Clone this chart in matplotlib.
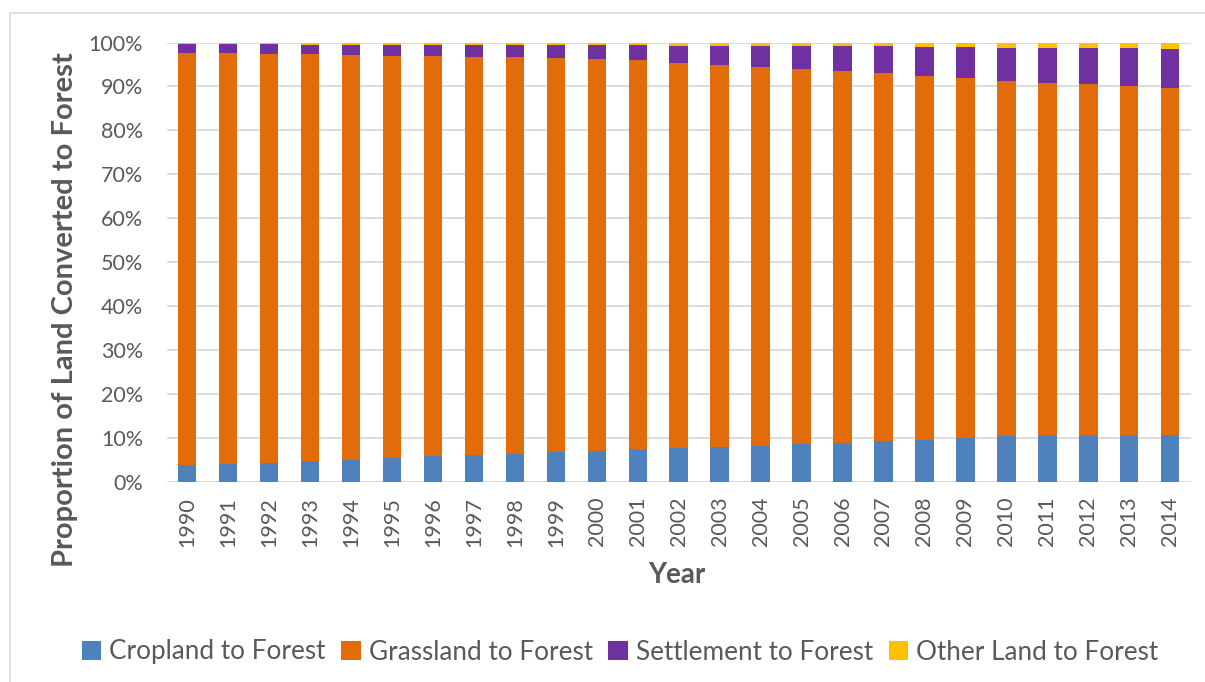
import matplotlib
matplotlib.use("Agg")
import matplotlib.pyplot as plt
from matplotlib.lines import Line2D
from matplotlib.patches import Patch
import numpy as np

years = [str(y) for y in range(1990, 2015)]
cropland = [3.8, 4.0, 4.2, 4.6, 5.0, 5.4, 5.8, 6.0, 6.3, 6.7, 7.0, 7.3, 7.6,
            7.9, 8.2, 8.5, 8.8, 9.2, 9.5, 10.0, 10.3, 10.5, 10.5, 10.5, 10.5]
grass_top = [97.6, 97.5, 97.4, 97.3, 97.2, 97.0, 96.9, 96.7, 96.6, 96.5, 96.3, 95.9, 95.3,
             94.9, 94.5, 94.0, 93.6, 93.1, 92.4, 91.8, 91.2, 90.8, 90.5, 90.1, 89.7]
settle_top = [99.6, 99.55, 99.55, 99.5, 99.5, 99.5, 99.45, 99.45, 99.4, 99.4, 99.35, 99.35, 99.3,
              99.25, 99.2, 99.15, 99.15, 99.1, 98.95, 98.9, 98.85, 98.8, 98.75, 98.75, 98.6]

grassland = [g - c for g, c in zip(grass_top, cropland)]
settlement = [s - g for s, g in zip(settle_top, grass_top)]
other = [100 - s for s in settle_top]

series = ["Cropland to Forest", "Grassland to Forest", "Settlement to Forest", "Other Land to Forest"]
colors = ["#4F81BD", "#E36C0A", "#7030A0", "#FFC000"]
values = [cropland, grassland, settlement, other]

TXT = "#595959"
plt.rcParams['font.family'] = ['Lato', 'DejaVu Sans']

fig = plt.figure(figsize=(12.05, 6.82), dpi=100)
ax = fig.add_axes([166.7 / 1205, 1 - 481.5 / 682, 1024 / 1205, 439 / 682])

x = np.arange(len(years))
bottom = np.zeros(len(years))
for vals, col in zip(values, colors):
    ax.bar(x, vals, bottom=bottom, width=0.45, color=col, edgecolor='none', zorder=3)
    bottom += np.array(vals)

ax.set_xlim(-0.5, len(years) - 0.5)
ax.set_ylim(0, 100)
ax.set_yticks(np.arange(0, 101, 10))
ax.set_yticklabels([f"{v}%" for v in range(0, 101, 10)])
ax.set_xticks(x)
ax.set_xticklabels(years, rotation=90)
ax.tick_params(axis='both', length=0, labelsize=15.5, labelcolor=TXT)
ax.tick_params(axis='y', pad=17)
ax.tick_params(axis='x', pad=11)
ax.grid(axis='y', color='#D9D9D9', linewidth=1.3, zorder=0)
for s in ax.spines.values():
    s.set_visible(False)
ax.set_axisbelow(True)

fig.text(677 / 1205, 1 - 575 / 682, "Year", ha='center', va='center',
         fontsize=20, fontweight='bold', color=TXT)
fig.text(65 / 1205, 1 - 310 / 682, "Proportion of Land Converted to Forest", ha='center', va='center',
         rotation=90, fontsize=21, fontweight='bold', color=TXT)

handles = [Patch(facecolor=c, edgecolor='none') for c in colors]
leg = fig.legend(handles, series, loc='center', bbox_to_anchor=(620 / 1205, 1 - 652 / 682),
                 ncol=4, frameon=False, fontsize=18.8, handlelength=0.75, handleheight=0.75,
                 handletextpad=0.3, columnspacing=0.6, labelcolor=TXT)

# chart border
fig.add_artist(Line2D([10 / 1205, 10 / 1205], [0, 1 - 13 / 682], transform=fig.transFigure,
                      color='#D9D9D9', linewidth=1.2))
fig.add_artist(Line2D([10 / 1205, 1], [1 - 13 / 682, 1 - 13 / 682], transform=fig.transFigure,
                      color='#D9D9D9', linewidth=1.2))

fig.savefig("out.png", dpi=100)
